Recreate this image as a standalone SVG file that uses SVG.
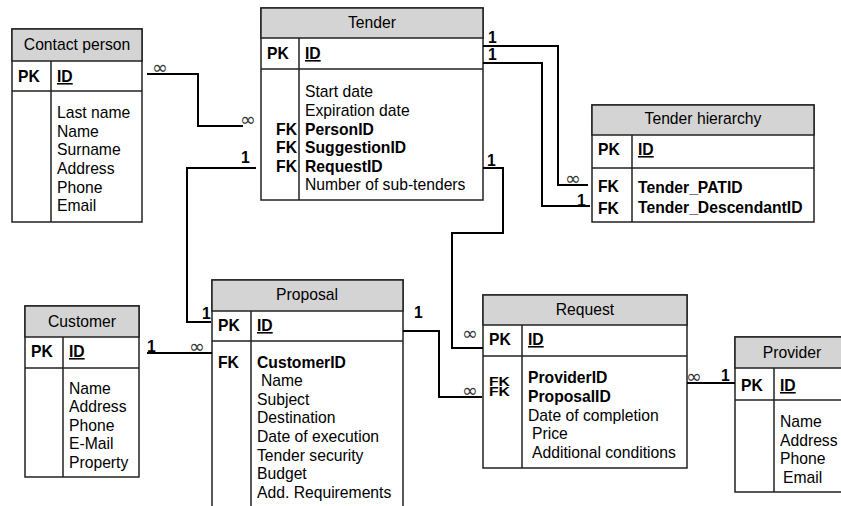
<svg xmlns="http://www.w3.org/2000/svg" width="841" height="506" viewBox="0 0 841 506">
<style>
text{font-family:"Liberation Sans",Arial,sans-serif;font-size:15.7px;fill:#000}
.box{fill:#fff;stroke:#222;stroke-width:1.5}
.hdr{fill:#d4d4d4;stroke:#222;stroke-width:1.5}
.sep{stroke:#222;stroke-width:1.5;fill:none}
.t{text-anchor:middle}
.b{font-weight:bold}
.u{font-weight:bold;text-decoration:underline}
.fk{font-weight:bold;text-anchor:end}
.con{fill:none;stroke:#000;stroke-width:2}
.inf{font-family:"DejaVu Sans",sans-serif;font-size:19px;fill:#333}
.one{font-weight:bold}
</style>
<rect width="841" height="506" fill="#fff"/>

<g id="contact-person">
<rect class="box" x="12" y="29" width="130" height="193"/>
<rect class="hdr" x="12" y="29" width="130" height="32"/>
<line class="sep" x1="12" y1="91" x2="142" y2="91"/>
<line class="sep" x1="51" y1="61" x2="51" y2="222"/>
<text class="t" x="77" y="50">Contact person</text>
<text class="b" x="18" y="82">PK</text>
<text class="u" x="57" y="82">ID</text>
<text x="57" y="118">Last name</text>
<text x="57" y="137">Name</text>
<text x="57" y="155">Surname</text>
<text x="57" y="174">Address</text>
<text x="57" y="193">Phone</text>
<text x="57" y="211">Email</text>
</g>

<g id="tender">
<rect class="box" x="261" y="8" width="222" height="192"/>
<rect class="hdr" x="261" y="8" width="222" height="30"/>
<line class="sep" x1="261" y1="69" x2="483" y2="69"/>
<line class="sep" x1="299" y1="38" x2="299" y2="200"/>
<text class="t" x="372" y="28">Tender</text>
<text class="b" x="267" y="59">PK</text>
<text class="u" x="305" y="59">ID</text>
<text x="305" y="97">Start date</text>
<text x="305" y="116">Expiration date</text>
<text class="fk" x="297" y="135">FK</text>
<text class="b" x="305" y="135">PersonID</text>
<text class="fk" x="297" y="153">FK</text>
<text class="b" x="305" y="153">SuggestionID</text>
<text class="fk" x="297" y="172">FK</text>
<text class="b" x="305" y="172">RequestID</text>
<text x="305" y="190">Number of sub-tenders</text>
</g>

<g id="tender-hierarchy">
<rect class="box" x="592" y="105" width="222" height="117"/>
<rect class="hdr" x="592" y="105" width="222" height="30"/>
<line class="sep" x1="592" y1="168" x2="814" y2="168"/>
<line class="sep" x1="632" y1="135" x2="632" y2="222"/>
<text class="t" x="703" y="124">Tender hierarchy</text>
<text class="b" x="598" y="155">PK</text>
<text class="u" x="638" y="155">ID</text>
<text class="b" x="598" y="192">FK</text>
<text class="b" x="638" y="193">Tender_PATID</text>
<text class="b" x="598" y="214">FK</text>
<text class="b" x="638" y="213">Tender_DescendantID</text>
</g>

<g id="customer">
<rect class="box" x="25" y="306" width="114" height="171"/>
<rect class="hdr" x="25" y="306" width="114" height="31"/>
<line class="sep" x1="25" y1="368" x2="139" y2="368"/>
<line class="sep" x1="63" y1="337" x2="63" y2="477"/>
<text class="t" x="82" y="327">Customer</text>
<text class="b" x="31" y="357">PK</text>
<text class="u" x="69" y="357">ID</text>
<text x="69" y="394">Name</text>
<text x="69" y="412">Address</text>
<text x="69" y="431">Phone</text>
<text x="69" y="449">E-Mail</text>
<text x="69" y="468">Property</text>
</g>

<g id="proposal">
<rect class="box" x="212" y="280" width="191" height="240"/>
<rect class="hdr" x="212" y="280" width="191" height="31"/>
<line class="sep" x1="212" y1="341" x2="403" y2="341"/>
<line class="sep" x1="251" y1="311" x2="251" y2="520"/>
<text class="t" x="307" y="300">Proposal</text>
<text class="b" x="218" y="331">PK</text>
<text class="u" x="257" y="331">ID</text>
<text class="b" x="218" y="368">FK</text>
<text class="b" x="257" y="368">CustomerID</text>
<text x="261" y="386">Name</text>
<text x="257" y="405">Subject</text>
<text x="257" y="423">Destination</text>
<text x="257" y="442">Date of execution</text>
<text x="257" y="461">Tender security</text>
<text x="257" y="479">Budget</text>
<text x="257" y="498">Add. Requirements</text>
</g>

<g id="request">
<rect class="box" x="483" y="295" width="204" height="173"/>
<rect class="hdr" x="483" y="295" width="204" height="30"/>
<line class="sep" x1="483" y1="356" x2="687" y2="356"/>
<line class="sep" x1="522" y1="325" x2="522" y2="468"/>
<text class="t" x="585" y="315">Request</text>
<text class="b" x="489" y="345">PK</text>
<text class="u" x="528" y="345">ID</text>
<text class="b" transform="matrix(1,0,0,0.8,489,0)"><tspan x="0" y="481.9">FK</tspan><tspan x="0" y="495.6">FK</tspan></text>
<text class="b" x="528" y="383">ProviderID</text>
<text class="b" x="528" y="402">ProposalID</text>
<text x="528" y="421">Date of completion</text>
<text x="532" y="439">Price</text>
<text x="532" y="458">Additional conditions</text>
</g>

<g id="provider">
<rect class="box" x="735" y="337" width="114" height="155"/>
<rect class="hdr" x="735" y="337" width="114" height="31"/>
<line class="sep" x1="735" y1="400" x2="849" y2="400"/>
<line class="sep" x1="774" y1="368" x2="774" y2="492"/>
<text class="t" x="792" y="358">Provider</text>
<text class="b" x="741" y="391">PK</text>
<text class="u" x="780" y="391">ID</text>
<text x="780" y="427">Name</text>
<text x="780" y="446">Address</text>
<text x="780" y="464">Phone</text>
<text x="783" y="483">Email</text>
</g>

<g id="connectors">
<path class="con" d="M147,74 H198 V126 H243"/>
<path class="con" d="M256,168 H187 V322 H211"/>
<path class="con" d="M147,353 H212"/>
<path class="con" d="M483,46 H558 V185 H588"/>
<path class="con" d="M483,63 H542 V206 H590"/>
<path class="con" d="M483,168 H503 V233 H452 V348 H483"/>
<path class="con" d="M403,331 H439 V397 H482"/>
<path class="con" d="M687,383 H735"/>
<text class="inf" x="152" y="74">∞</text>
<text class="inf" x="240" y="126">∞</text>
<text class="one" x="241" y="163">1</text>
<text class="one" x="202" y="319">1</text>
<text class="one" x="147" y="352">1</text>
<text class="inf" x="189" y="353">∞</text>
<text class="one" x="488" y="43">1</text>
<text class="one" x="488" y="60">1</text>
<text class="inf" x="565" y="185">∞</text>
<text class="one" x="577" y="206">1</text>
<text class="one" x="487" y="166">1</text>
<text class="inf" x="462" y="340">∞</text>
<text class="one" x="414" y="318">1</text>
<text class="inf" x="462" y="397">∞</text>
<text class="inf" x="686" y="383">∞</text>
<text class="one" x="721" y="381">1</text>
</g>
</svg>
